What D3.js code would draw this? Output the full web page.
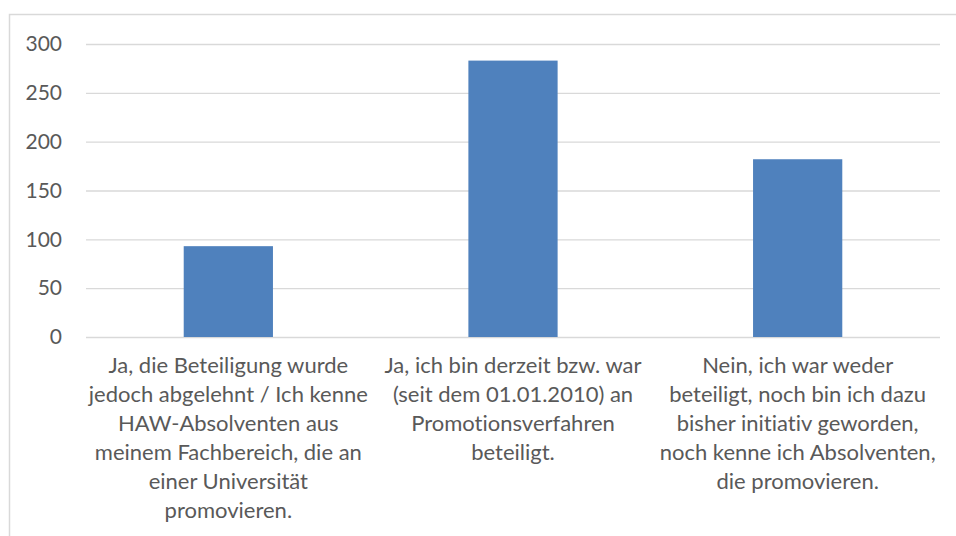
<!DOCTYPE html>
<html>
  <head>
    <meta charset="utf-8">
    <title>Beteiligung an Promotionsverfahren</title>
    <script src="https://cdn.jsdelivr.net/npm/d3@7/dist/d3.min.js"></script>
    <style>
      body { margin: 0; background: #ffffff; }
      text { font-family: Lato, "Open Sans", sans-serif; fill: #595959; font-variant-ligatures: none; }
    </style>
  </head>
  <body>
    <svg width="956" height="536" id="mainsvg"></svg>
    <script>
        // category labels, already broken into lines like in the original
        const categories = ['cat1', 'cat2', 'cat3'];
        const labelLines = [
            ['Ja, die Beteiligung wurde', 'jedoch abgelehnt / Ich kenne', 'HAW-Absolventen aus', 'meinem Fachbereich, die an', 'einer Universität', 'promovieren.'],
            ['Ja, ich bin derzeit bzw. war', '(seit dem 01.01.2010) an', 'Promotionsverfahren', 'beteiligt.'],
            ['Nein, ich war weder', 'beteiligt, noch bin ich dazu', 'bisher initiativ geworden,', 'noch kenne ich Absolventen,', 'die promovieren.']
        ];
        const values = [93, 283, 182];
        const yTicks = [0, 50, 100, 150, 200, 250, 300];

        const svg = d3.select('#mainsvg');
        const margin = {top: 44, right: 16, bottom: 199, left: 86};
        const width = +svg.attr('width');
        const height = +svg.attr('height');
        const innerWidth = width - margin.left - margin.right;
        const innerHeight = height - margin.top - margin.bottom;
        const lineHeight = 29;

        // chart area frame: only top and left edges show in the picture
        svg.append('path')
            .attr('d', `M9.5,${height} V14.5 H${width}`)
            .attr('fill', 'none')
            .attr('stroke', '#d9d9d9')
            .attr('stroke-width', 1.5);

        const g = svg.append('g')
            .attr('transform', `translate(${margin.left}, ${margin.top})`);

        // excel gap width 219% -> bar is 1/3.19 of category width
        const gap = 2.19 / 3.19;
        const xScale = d3.scaleBand()
            .domain(categories)
            .range([0, innerWidth])
            .paddingInner(gap)
            .paddingOuter(gap / 2);

        const yScale = d3.scaleLinear()
            .domain([0, 300])
            .range([innerHeight, 0]);

        // gridlines + tick labels
        const yAxis = d3.axisLeft(yScale)
            .tickValues(yTicks)
            .tickSize(-innerWidth)
            .tickPadding(24);
        const yAxisGroup = g.append('g').call(yAxis);
        yAxisGroup.select('.domain').remove();
        yAxisGroup.selectAll('.tick line')
            .attr('stroke', '#d9d9d9')
            .attr('stroke-width', 1.3);
        yAxisGroup.selectAll('.tick text')
            .attr('font-size', 21)
            .attr('font-family', null)
            .attr('fill', '#595959');

        // bars
        g.selectAll('rect.bar')
            .data(values)
            .enter().append('rect')
            .attr('class', 'bar')
            .attr('x', (d, i) => xScale(categories[i]))
            .attr('y', d => yScale(d))
            .attr('width', xScale.bandwidth())
            .attr('height', d => innerHeight - yScale(d))
            .attr('fill', '#4f81bd');

        // category labels, one text per line
        const flat = [];
        labelLines.forEach((lines, i) => {
            lines.forEach((line, j) => flat.push({cat: categories[i], line: line, row: j}));
        });
        g.selectAll('text.cat')
            .data(flat)
            .enter().append('text')
            .attr('class', 'cat')
            .attr('text-anchor', 'middle')
            .attr('font-size', 22)
            .attr('x', d => xScale(d.cat) + xScale.bandwidth() / 2)
            .attr('y', d => innerHeight + 36 + d.row * lineHeight)
            .text(d => d.line);
    </script>
  </body>
</html>
